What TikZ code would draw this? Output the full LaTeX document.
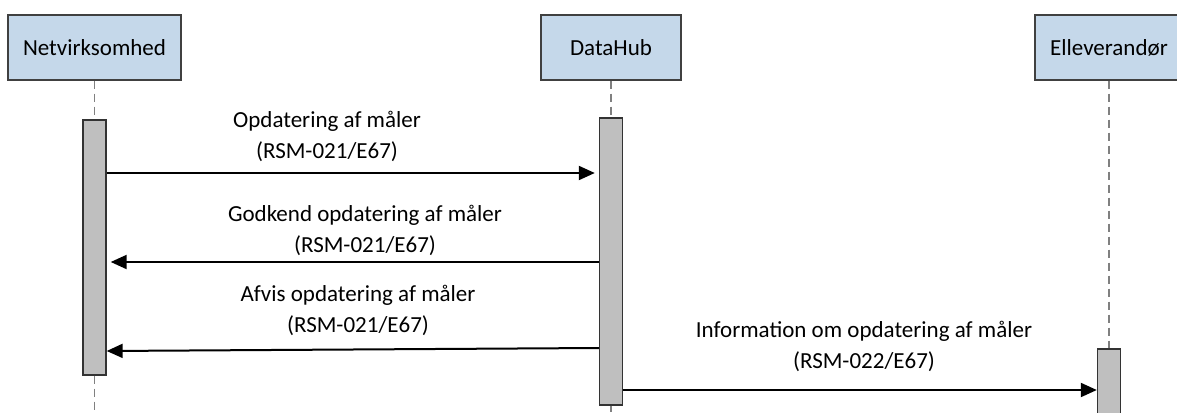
\documentclass[tikz,border=0pt]{standalone}
\usepackage{fontspec}
\setmainfont{Carlito}
\usetikzlibrary{arrows.meta,calc}
\definecolor{hdrfill}{RGB}{197,216,234}
\definecolor{hdrline}{RGB}{64,64,64}
\definecolor{barfill}{RGB}{191,191,191}
\definecolor{lifegray}{RGB}{128,128,128}
\tikzset{
  actor/.style={draw=hdrline, line width=1.4pt, fill=hdrfill, minimum height=65pt,
    inner sep=0pt, font=\fontsize{23}{31}\selectfont},
  actbar/.style={draw=black!80, line width=1.4pt, fill=barfill, minimum width=23pt, inner sep=0pt},
  life/.style={draw=lifegray, line width=1.4pt, dash pattern=on 8pt off 5pt},
  msg/.style={draw=black, line width=2pt, -{Triangle[length=16pt,width=14pt]}},
  lbl/.style={align=center, inner sep=0pt, font=\fontsize{23}{31}\selectfont}
}
\begin{document}
\begin{tikzpicture}[x=1pt,y=-1pt]
\clip (0,0) rectangle (1177,412);
\fill[white] (0,0) rectangle (1177,412);
% actors
\node[actor, minimum width=173pt] (nv) at (94.5,47.5) {Netvirksomhed};
\node[actor, minimum width=140pt] (dh) at (611,47.5) {DataHub};
\node[actor, minimum width=148pt] (el) at (1109,47.5) {Elleverandør};
% activation bars
\node[actbar, minimum height=255pt] (nb) at (94.5,247.5) {};
\node[actbar, minimum height=287pt] (db) at (611,261.5) {};
\node[actbar, minimum height=91pt] (eb) at (1109,394.5) {};
% ends of lifelines
\coordinate (nvend) at (94.5,412);
\coordinate (dhend) at (611,412);
% lifelines
\draw[life] (nv.south) -- (nb.north);
\draw[life] (nb.south) -- (nvend);
\draw[life] (dh.south) -- (db.north);
\draw[life] (db.south) -- (dhend);
\draw[life] (el.south) -- (eb.north);
% message heights
\coordinate (y1) at (0,173);
\coordinate (y2) at (0,262);
\coordinate (y3a) at (0,348);
\coordinate (y3b) at (0,351);
\coordinate (y4) at (0,390);
% messages
\draw[msg, shorten >=4pt] (nb.east |- y1) -- (db.west |- y1);
\draw[msg, shorten >=4pt] (db.west |- y2) -- (nb.east |- y2);
\draw[msg] (db.west |- y3a) -- (nb.east |- y3b);
\draw[msg] (db.east |- y4) -- (eb.west |- y4);
% labels
\node[lbl] (l1) at (327,136) {Opdatering af måler\\(RSM-021/E67)};
\node[lbl] (l2) at (365,230) {Godkend opdatering af måler\\(RSM-021/E67)};
\node[lbl] (l3) at (358,310) {Afvis opdatering af måler\\(RSM-021/E67)};
\node[lbl] (l4) at (864,346) {Information om opdatering af måler\\(RSM-022/E67)};
\end{tikzpicture}
\end{document}
